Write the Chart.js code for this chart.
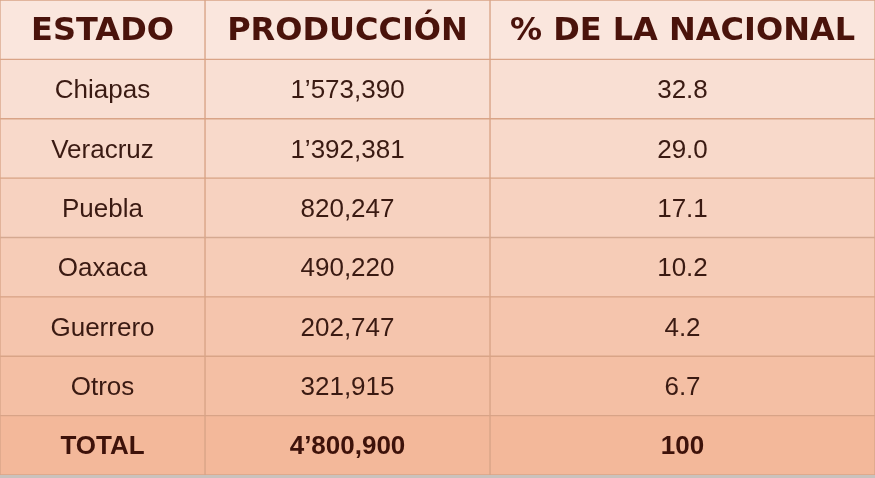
<!DOCTYPE html>
<html><head><meta charset="utf-8">
<script src="https://cdn.jsdelivr.net/npm/chart.js@4"></script>
<style>html,body{margin:0;padding:0;background:#c9c2bd;}#w{width:875px;height:475px;}</style>
</head><body><div id="w"><canvas id="c"></canvas></div>
<script>
const headers = ["ESTADO", "PRODUCCIÓN", "% DE LA NACIONAL"];
const estados = ["Chiapas", "Veracruz", "Puebla", "Oaxaca", "Guerrero", "Otros", "TOTAL"];
const produccion = ["1’573,390", "1’392,381", "820,247", "490,220", "202,747", "321,915", "4’800,900"];
const porcentaje = ["32.8", "29.0", "17.1", "10.2", "4.2", "6.7", "100"];
const colEdges = [0, 205, 490, 875];

const rows = [headers].concat(estados.map((e, i) => [e, produccion[i], porcentaje[i]]));
const rowLabels = rows.map((r, i) => String(i));
function rowColor(i) {
  const a = [250, 230, 221], b = [243, 184, 154], t = i / (rows.length - 1);
  return `rgb(${a.map((v, k) => Math.round(v + (b[k] - v) * t)).join(",")})`;
}
const datasets = [0, 1, 2].map(c => ({
  data: rowLabels.map(() => [colEdges[c], colEdges[c + 1]]),
  backgroundColor: rowLabels.map((_, i) => rowColor(i)),
  borderColor: "#d9a487", borderWidth: 1, borderSkipped: false,
  barPercentage: 1, categoryPercentage: 1, grouped: false
}));
const HF = "bold 32px 'DejaVu Sans', sans-serif";
const TF = "bold 26px 'Liberation Sans', Arial, sans-serif";
const BF = "26px 'Liberation Sans', Arial, sans-serif";
const textPlugin = {
  id: "txt",
  afterDatasetsDraw(chart) {
    const ctx = chart.ctx, x = chart.scales.x, y = chart.scales.y;
    ctx.save(); ctx.textAlign = "center"; ctx.textBaseline = "middle";
    rows.forEach((r, i) => {
      r.forEach((t, c) => {
        const cx = x.getPixelForValue((colEdges[c] + colEdges[c + 1]) / 2);
        const cy = y.getPixelForValue(i);
        if (i === 0) { ctx.font = HF; ctx.fillStyle = "#4a130b"; }
        else if (i === rows.length - 1) { ctx.font = TF; ctx.fillStyle = "#3d120a"; }
        else { ctx.font = BF; ctx.fillStyle = "#3a1a12"; }
        ctx.fillText(t, cx, cy + 2);
      });
    });
    ctx.restore();
  }
};
Promise.all([HF, TF, BF].map(f => document.fonts.load(f).catch(() => null))).then(() => {
new Chart(document.getElementById("c"), {
  type: "bar",
  data: { labels: rowLabels, datasets },
  options: {
    indexAxis: "y", responsive: true, maintainAspectRatio: false, animation: false,
    layout: { padding: 0 },
    plugins: { legend: { display: false }, tooltip: { enabled: false } },
    scales: {
      x: { type: "linear", min: 0, max: 875, display: false },
      y: { display: false }
    }
  },
  plugins: [textPlugin]
});
});
</script></body></html>
